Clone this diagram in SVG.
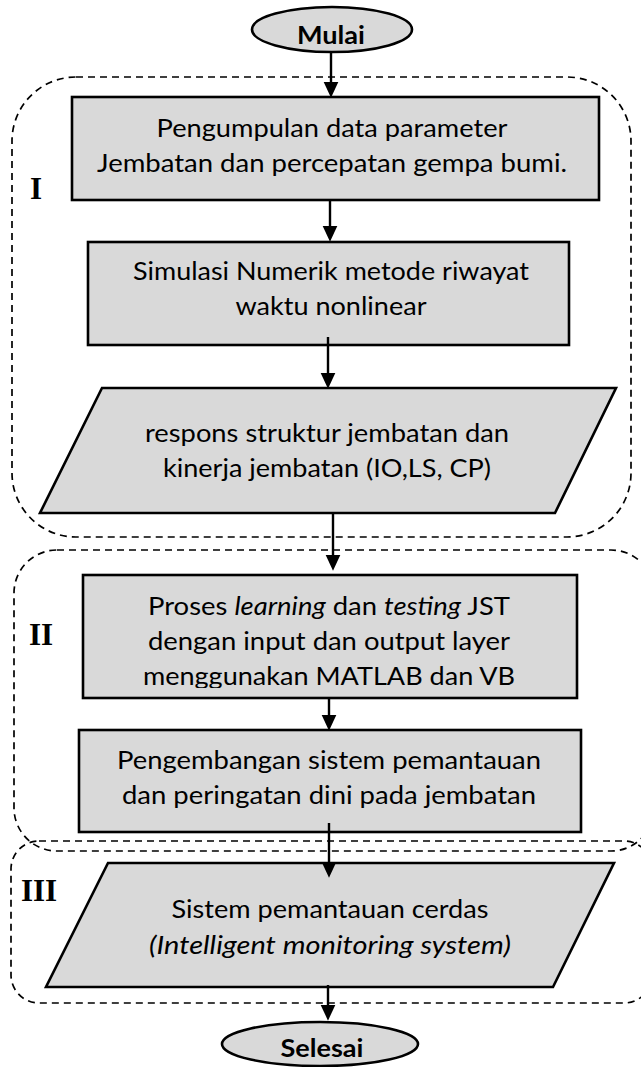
<svg xmlns="http://www.w3.org/2000/svg" width="641" height="1067" viewBox="0 0 641 1067">
  <style>
    .box { fill: #d9d9d9; stroke: #000; stroke-width: 2.6; }
    .grp { fill: none; stroke: #000; stroke-width: 1.7; stroke-dasharray: 7 5; }
    .t { font-family: Lato, "Open Sans", "Liberation Sans", sans-serif; font-size: 25px; font-weight: 400; fill: #000; text-anchor: middle; }
    .b { font-weight: bold; font-size: 25px; }
    .lbl { font-family: "Liberation Serif", "Times New Roman", serif; font-weight: bold; font-size: 31px; fill: #000; text-anchor: middle; }
    .cn { stroke: #000; stroke-width: 2.4; fill: none; marker-end: url(#ah); }
  </style>
  <defs>
    <marker id="ah" markerUnits="userSpaceOnUse" markerWidth="16" markerHeight="16" viewBox="0 0 15 14" refX="5" refY="7" orient="auto">
      <path d="M0,0 L15,7 L0,14 Z" fill="#000"/>
    </marker>
    <clipPath id="clip-learn">
      <rect x="83" y="575" width="494" height="113"/>
    </clipPath>
  </defs>

  <!-- stage boundaries -->
  <g id="stages">
    <rect class="grp" x="12" y="77" width="619" height="460" rx="64"/>
    <rect class="grp" x="14" y="550" width="640" height="301" rx="43"/>
    <rect class="grp" x="11" y="841" width="641" height="162" rx="28"/>
  </g>

  <g id="start">
    <ellipse class="box" cx="332" cy="29.5" rx="80" ry="22.5"/>
    <text class="t b" x="331" y="44" textLength="68" lengthAdjust="spacingAndGlyphs">Mulai</text>
  </g>

  <g id="collect">
    <rect class="box" x="72" y="97" width="527" height="103"/>
    <text class="t" x="332" y="137" textLength="351" lengthAdjust="spacingAndGlyphs">Pengumpulan data parameter</text>
    <text class="t" x="332" y="172" textLength="470" lengthAdjust="spacingAndGlyphs">Jembatan dan percepatan gempa bumi.</text>
  </g>

  <g id="simulate">
    <rect class="box" x="88" y="242" width="481" height="103"/>
    <text class="t" x="331" y="280" textLength="396" lengthAdjust="spacingAndGlyphs">Simulasi Numerik metode riwayat</text>
    <text class="t" x="331" y="315" textLength="191" lengthAdjust="spacingAndGlyphs">waktu nonlinear</text>
  </g>

  <g id="response">
    <polygon class="box" points="102,388 616,388 555,513 40,513"/>
    <text class="t" x="327" y="442" textLength="364" lengthAdjust="spacingAndGlyphs">respons struktur jembatan dan</text>
    <text class="t" x="327" y="477" textLength="328" lengthAdjust="spacingAndGlyphs">kinerja jembatan (IO,LS, CP)</text>
  </g>

  <g id="learning">
    <rect class="box" x="83" y="575" width="494" height="123"/>
    <g clip-path="url(#clip-learn)">
      <text class="t" x="329" y="615" textLength="362" lengthAdjust="spacingAndGlyphs">Proses <tspan font-style="italic">learning</tspan> dan <tspan font-style="italic">testing</tspan> JST</text>
      <text class="t" x="329" y="650" textLength="362" lengthAdjust="spacingAndGlyphs">dengan input dan output layer</text>
      <text class="t" x="329" y="685" textLength="372" lengthAdjust="spacingAndGlyphs">menggunakan MATLAB dan VB</text>
    </g>
  </g>

  <g id="warning">
    <rect class="box" x="79" y="730" width="502" height="102"/>
    <text class="t" x="329" y="769" textLength="424" lengthAdjust="spacingAndGlyphs">Pengembangan sistem pemantauan</text>
    <text class="t" x="329" y="804" textLength="414" lengthAdjust="spacingAndGlyphs">dan peringatan dini pada jembatan</text>
  </g>

  <g id="smart-system">
    <polygon class="box" points="108,863 614,863 553,987 46,987"/>
    <text class="t" x="330" y="918" textLength="317" lengthAdjust="spacingAndGlyphs">Sistem pemantauan cerdas</text>
    <text class="t" x="330" y="954" textLength="362" lengthAdjust="spacingAndGlyphs" font-style="italic">(Intelligent monitoring system)</text>
  </g>

  <g id="end">
    <ellipse class="box" cx="320" cy="1044" rx="98" ry="22"/>
    <text class="t b" x="322" y="1057" textLength="83" lengthAdjust="spacingAndGlyphs">Selesai</text>
  </g>

  <g id="connectors">
    <line class="cn" x1="331" y1="52" x2="331" y2="87"/>
    <line class="cn" x1="330" y1="200" x2="330" y2="231"/>
    <line class="cn" x1="328" y1="337" x2="328" y2="378"/>
    <line class="cn" x1="333" y1="513" x2="333" y2="560"/>
    <line class="cn" x1="329" y1="698" x2="329" y2="720"/>
    <line class="cn" x1="329" y1="823" x2="329" y2="867"/>
    <line class="cn" x1="328" y1="985" x2="328" y2="1010"/>
  </g>

  <g id="stage-labels">
    <text class="lbl" x="36" y="199">I</text>
    <text class="lbl" x="41" y="645">II</text>
    <text class="lbl" x="39" y="901">III</text>
  </g>
</svg>
